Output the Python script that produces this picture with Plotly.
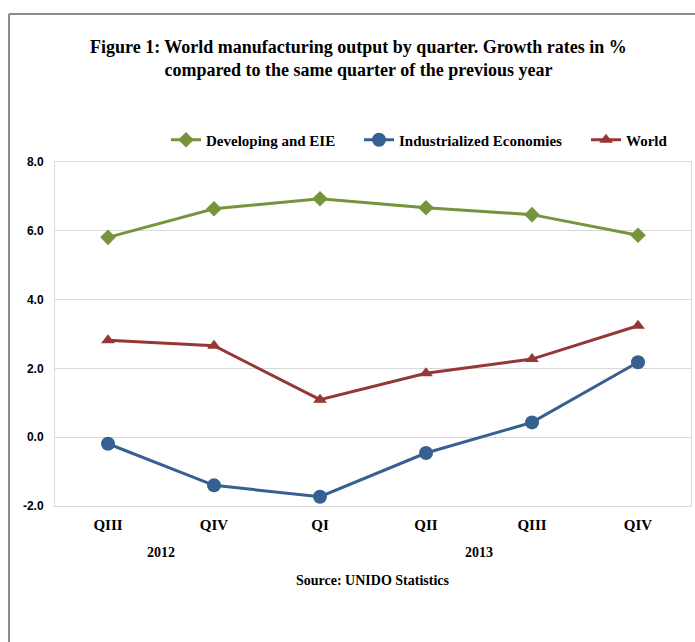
import plotly.graph_objects as go

quarters = ["QIII", "QIV", "QI", "QII", "QIII", "QIV"]
years = ["2012", "2012", "2013", "2013", "2013", "2013"]
developing = [5.81, 6.64, 6.93, 6.67, 6.47, 5.87]
industrialized = [-0.19, -1.40, -1.73, -0.46, 0.43, 2.18]
world = [2.82, 2.66, 1.09, 1.86, 2.27, 3.24]
yticks = [-2.0, 0.0, 2.0, 4.0, 6.0, 8.0]

W, H = 695, 642
L, R, T, B = 55, 691, 162, 506
pw, ph = R - L, B - T


def px(x):
    return (x - L) / pw


def py(y):
    return (B - y) / ph


xs = list(range(len(quarters)))
serif = "Liberation Serif"
legfont = dict(family=serif, size=15, color="black")

fig = go.Figure()
fig.add_trace(go.Scatter(x=xs, y=developing, name="<b>Developing and EIE</b>", mode="lines+markers",
                         line=dict(color="#77933C", width=3), legend="legend",
                         marker=dict(symbol="diamond", size=12, color="#77933C")))
fig.add_trace(go.Scatter(x=xs, y=industrialized, name="<b>Industrialized Economies</b>", mode="lines+markers",
                         line=dict(color="#376092", width=3), legend="legend2",
                         marker=dict(symbol="circle", size=14, color="#376092")))
fig.add_trace(go.Scatter(x=xs, y=world, name="<b>World</b>", mode="lines+markers",
                         line=dict(color="#953735", width=3), legend="legend3",
                         marker=dict(symbol="triangle-up", size=12, color="#953735")))

annotations = [
    dict(text="<b>Figure 1: World manufacturing output by quarter. Growth rates in %<br>compared to the same quarter of the previous year</b>",
         xref="paper", yref="paper", x=px(358), y=py(59), showarrow=False,
         font=dict(family=serif, size=18, color="black"), xanchor="center", yanchor="middle"),
    dict(text="<b>Source: UNIDO Statistics</b>", xref="paper", yref="paper", x=px(373), y=py(580),
         showarrow=False, font=dict(family=serif, size=14, color="black"), yanchor="middle"),
]
# year group labels centred under their quarters
for yr in dict.fromkeys(years):
    idx = [i for i, v in enumerate(years) if v == yr]
    annotations.append(dict(text="<b>" + yr + "</b>", xref="x", yref="paper", x=sum(idx) / len(idx),
                            y=py(552), showarrow=False, yanchor="middle",
                            font=dict(family=serif, size=14, color="black")))


def leg(x0):
    return dict(orientation="h", x=px(x0), y=py(140), xanchor="left", yanchor="middle",
                font=legfont, itemwidth=30, bgcolor="rgba(0,0,0,0)")


fig.update_layout(
    width=W, height=H,
    margin=dict(l=L, r=W - R, t=T, b=H - B),
    paper_bgcolor="white", plot_bgcolor="white",
    showlegend=True,
    legend=leg(166), legend2=leg(359), legend3=leg(586),
    xaxis=dict(range=[-0.5, len(quarters) - 0.5], tickvals=xs, ticktext=["<b>" + q + "</b>" for q in quarters],
               showgrid=False, showline=True, linecolor="#D9D9D9", linewidth=1, mirror=True,
               ticks="", ticklabelstandoff=5, tickfont=dict(family=serif, size=15, color="black"),
               zeroline=False),
    yaxis=dict(range=[-2, 8], tickvals=yticks, ticktext=["<b>%.1f</b>" % v for v in yticks],
               showgrid=True, gridcolor="#D9D9D9", gridwidth=1, showline=True, linecolor="#D9D9D9",
               linewidth=1, mirror=True, zeroline=False, ticks="", ticklabelstandoff=8,
               tickfont=dict(family="Liberation Sans", size=12, color="black")),
    annotations=annotations,
    shapes=[
        dict(type="line", xref="paper", yref="paper", x0=px(9), x1=px(9), y0=py(14), y1=py(700),
             line=dict(color="#8C8C8C", width=2)),
        dict(type="line", xref="paper", yref="paper", x0=px(9), x1=px(720), y0=py(14), y1=py(14),
             line=dict(color="#8C8C8C", width=2)),
    ],
)

fig.write_html("out.html", config={"displayModeBar": False},
               post_script="document.body.style.margin='0';")
